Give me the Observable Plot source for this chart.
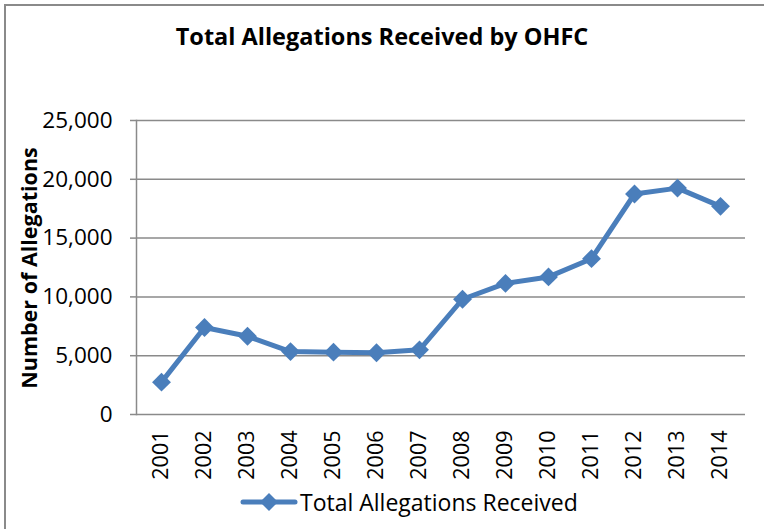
<!DOCTYPE html>
<html>
<head>
<meta charset="utf-8">
<script src="https://cdn.jsdelivr.net/npm/d3@7"></script>
<script src="https://cdn.jsdelivr.net/npm/@observablehq/plot@0.6"></script>
<style>
  html, body { margin: 0; padding: 0; background: #fff; }
  #wrap { position: relative; width: 764px; height: 529px; overflow: hidden; background: #fff; font-family: "Open Sans", sans-serif; color: #000; }
  #border { position: absolute; left: 4px; top: 4px; width: 800px; height: 600px; border-left: 2px solid #8a8a8a; border-top: 2px solid #8a8a8a; box-sizing: border-box; }
  #title { position: absolute; left: 0; width: 764px; top: 21px; text-align: center; font-weight: bold; font-size: 23.5px; line-height: 30px; }
  #ylabel { position: absolute; left: 29px; top: 268px; transform: translate(-50%, -50%) rotate(-90deg); font-weight: bold; font-size: 21.5px; white-space: nowrap; line-height: 24px; }
  #chart { position: absolute; left: 0; top: 100px; }
  #legend { position: absolute; left: 240px; top: 488px; height: 28px; display: flex; align-items: center; font-size: 23px; }
  #legend svg { margin-right: 2px; }
</style>
</head>
<body>
<div id="wrap">
  <div id="border"></div>
  <div id="title">Total Allegations Received by OHFC</div>
  <div id="ylabel">Number of Allegations</div>
  <div id="chart"></div>
  <div id="legend"></div>
</div>
<script>
const years = ["2001","2002","2003","2004","2005","2006","2007","2008","2009","2010","2011","2012","2013","2014"];
const allegations = [2750, 7400, 6650, 5350, 5300, 5250, 5500, 9800, 11150, 11700, 13250, 18750, 19250, 17700];
const yTicks = [0, 5000, 10000, 15000, 20000, 25000];
const seriesName = "Total Allegations Received";

const data = years.map((y, i) => ({year: y, value: allegations[i]}));
const blue = "#4a7ebb";
const grid = "#8a8a8a";

const chart = Plot.plot({
  width: 764,
  height: 388,
  marginTop: 20,
  marginBottom: 74,
  marginLeft: 136,
  marginRight: 19,
  style: {fontFamily: "'Open Sans', sans-serif", color: "#000", background: "transparent"},
  x: {type: "point", domain: years, padding: 0.5},
  y: {domain: [0, 25000]},
  marks: [
    Plot.ruleY(yTicks, {stroke: grid, strokeWidth: 1.5}),
    Plot.frame({anchor: "left", stroke: grid, strokeWidth: 1.5}),
    Plot.axisY({ticks: yTicks, tickFormat: d3.format(","), tickSize: 6, tickPadding: 18, fontSize: 22.5, stroke: grid, strokeWidth: 1.5, label: null, fill: "#000"}),
    Plot.axisX({tickSize: 0, tickRotate: -90, tickPadding: 16, fontSize: 21.5, label: null, fill: "#000"}),
    Plot.line(data, {x: "year", y: "value", stroke: blue, strokeWidth: 5}),
    Plot.dot(data, {x: "year", y: "value", symbol: "diamond2", r: 8.5, fill: blue, stroke: "none"})
  ]
});
document.getElementById("chart").appendChild(chart);

// legend
const leg = document.getElementById("legend");
leg.innerHTML = `<svg width="58" height="28"><line x1="3" y1="14" x2="55" y2="14" stroke="${blue}" stroke-width="5" stroke-linecap="round"/><path d="M29,5 L38,14 L29,23 L20,14 Z" fill="${blue}"/></svg><span>${seriesName}</span>`;
</script>
</body>
</html>
